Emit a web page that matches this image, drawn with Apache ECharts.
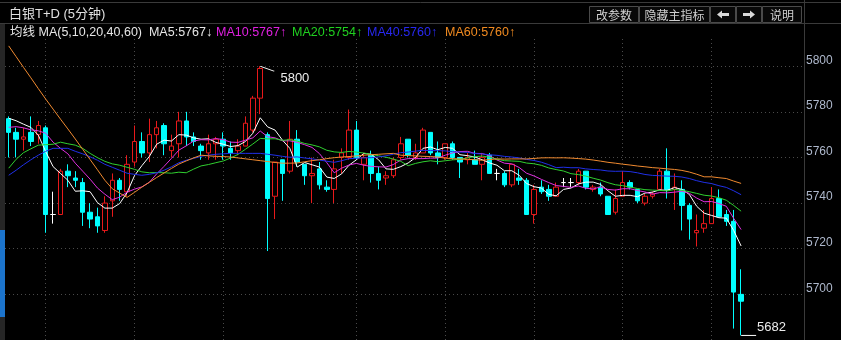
<!DOCTYPE html>
<html><head><meta charset="utf-8">
<script src="https://cdn.jsdelivr.net/npm/echarts@6/dist/echarts.min.js"></script>
<style>html,body{margin:0;padding:0;background:#000;}#c{width:841px;height:340px;}</style>
</head><body><div id="c"></div>
<script>
// ---- data ----
const opens = [5777,5771,5768,5771,5770,5773,5735,5735,5754,5751,5749,5736,5734,5728,5741,5750,5745,5758,5767,5762,
5770,5774,5763,5766,5776,5769,5765,5762,5766,5768,5764,5763,5765,5772,5786,5770,5743,5759,5754,5768,
5757,5752,5755,5747,5746,5760,5760,5772,5757,5761,5753,5751,5752,5760,5768,5760,5762,5771,5762,5760,
5766,5760,5759,5759,5757,5761,5753,5753,5748,5751,5750,5735,5747,5746,5743,5749,5749,5749,5754,5746,
5747,5743,5736,5743,5749,5746,5740,5743,5746,5754,5746,5746,5739,5727,5729,5731,5742,5735,5732,5700];
const closes = [5771,5768,5769,5767,5774,5735,5735,5754,5752,5750,5736,5733,5730,5740,5750,5746,5757,5767,5762,5770,
5773,5766,5765,5776,5769,5767,5763,5766,5768,5765,5762,5765,5775,5786,5799,5742,5758,5753,5768,5758,
5752,5753,5748,5746,5755,5762,5772,5760,5760,5753,5750,5752,5759,5766,5761,5762,5772,5762,5760,5766,
5760,5758,5760,5757,5760,5753,5753,5748,5757,5750,5735,5746,5745,5743,5747,5749,5749,5754,5747,5747,
5744,5735,5742,5749,5747,5741,5743,5744,5754,5746,5747,5739,5733,5728,5731,5742,5734,5732,5701,5697];
const lows = [5760,5760,5763,5765,5766,5727,5731,5735,5747,5747,5730,5729,5727,5727,5734,5741,5743,5756,5760,5758,
5764,5761,5760,5760,5765,5765,5759,5759,5759,5759,5759,5761,5765,5771,5779,5719,5733,5741,5753,5756,
5748,5740,5746,5745,5740,5753,5759,5759,5750,5749,5746,5748,5751,5759,5760,5759,5762,5761,5757,5759,
5759,5751,5757,5757,5750,5753,5750,5747,5747,5748,5735,5731,5744,5741,5743,5747,5747,5748,5746,5745,
5743,5735,5735,5743,5746,5740,5739,5742,5746,5742,5737,5728,5724,5721,5727,5731,5734,5730,5685,5682];
const highs = [5778,5773,5773,5778,5776,5774,5745,5755,5757,5754,5751,5740,5738,5743,5753,5751,5761,5774,5771,5777,
5776,5775,5770,5780,5780,5771,5766,5770,5769,5771,5767,5768,5778,5787,5800,5771,5758,5759,5776,5772,
5757,5760,5758,5750,5759,5764,5781,5776,5762,5763,5756,5754,5760,5769,5768,5766,5773,5771,5767,5766,
5767,5760,5762,5763,5762,5762,5755,5754,5757,5755,5751,5748,5750,5748,5749,5751,5751,5755,5754,5748,
5749,5743,5746,5754,5750,5746,5744,5745,5755,5764,5753,5750,5740,5735,5737,5747,5746,5737,5737,5711];
// moving-average values at the start of the window (need history before the first bar)
const ma5Lead = [5777.2,5776.1,5774.6,5773.2];
const ma10Lead = [5773.2,5773.5,5773.0,5772.1,5771.7,5770.6,5766.7,5764.0,5761.6];
const ma20Lead = [5755.3,5759.2,5762.1,5763.8,5765.4,5765.6,5765.8,5766.7,5766.0,5765.4,5764.0,5761.8,5759.9,5758.3,5757.2,5756.6,5755.7,5754.8,5753.7];
const ma40Lead = [5752.2,5754.4,5756.8,5759.0,5761.0,5762.7,5764.0,5764.0,5764.0,5762.7,5761.6,5760.3,5758.8,5757.0,5755.7,5754.4,5753.1,5752.6,5752.2,5752.6,
5753.3,5754.4,5755.9,5757.7,5758.8,5759.6,5760.5,5761.0,5761.4,5761.6,5761.8,5761.8,5761.8,5761.8,5761.8,5761.4,5761.0,5760.5,5760.1];
const ma60Lead = [5808.9,5804.2,5799.5,5794.9,5790.2,5785.6,5781.2,5776.8,5772.5,5768.1,5763.6,5759.1,5754.6,5750.0,5746.3,5744.4,5742.5,5744.7,5747.0,5749.1,
5751.2,5753.2,5755.2,5757.1,5758.5,5759.8,5761.0,5760.7,5760.5,5760.4,5760.2,5759.8,5759.4,5759.0,5758.6,5758.2,5757.8,5757.5,5757.5,5757.6,
5758.1,5758.6,5759.0,5759.5,5759.9,5760.2,5760.4,5760.7,5761.0,5761.2,5761.4,5761.6,5761.8,5761.0,5760.8,5760.7,5760.5,5760.4,5760.2];
const yTicks = [5700,5720,5740,5760,5780,5800];
const hourBars = [5,17,29,47,59,71,83,95]; // bars where the time grid lines fall
const emptySlots = 8; // empty space on the right of the last bar
const legendItems = [
  {text:'均线 MA(5,10,20,40,60)  MA5:5767↓', color:'#e6e6e6'},
  {text:'MA10:5767↑', color:'#e020e0'},
  {text:'MA20:5754↑', color:'#20d020'},
  {text:'MA40:5760↑', color:'#2828f0'},
  {text:'MA60:5760↑', color:'#f08a20'}
];
const buttons = ['改参数','隐藏主指标','','','说明'];

// ---- build ----
function ma(n, lead){
  return closes.map((c,i)=>{
    if(i < n-1) return lead[i];
    let s=0; for(let k=i-n+1;k<=i;k++) s+=closes[k];
    return +(s/n).toFixed(2);
  });
}
const cats = [];
for(let i=0;i<closes.length+emptySlots;i++) cats.push(String(i));
const kData = closes.map((c,i)=>[opens[i], c, lows[i], highs[i]]);
const FONT = '"Liberation Sans","Noto Sans CJK SC",sans-serif';
const maDefs = [
  {name:'MA5', n:5, lead:ma5Lead, color:'#ffffff'},
  {name:'MA10', n:10, lead:ma10Lead, color:'#e030e0'},
  {name:'MA20', n:20, lead:ma20Lead, color:'#30d030'},
  {name:'MA40', n:40, lead:ma40Lead, color:'#2030e8'},
  {name:'MA60', n:60, lead:ma60Lead, color:'#f08a30'}
];
const chart = echarts.init(document.getElementById('c'));
const legendX = [10, 216, 292, 367, 445];
const btnBoxes = [[589,49],[639,70],[710,25],[736,25],[762,39]];
const graphic = [
  {type:'line', shape:{x1:0,y1:2.5,x2:841,y2:2.5}, style:{stroke:'#3a3a3a',lineWidth:1}},
  {type:'line', shape:{x1:0,y1:23.5,x2:841,y2:23.5}, style:{stroke:'#3a3a3a',lineWidth:1}},
  {type:'line', shape:{x1:804.5,y1:0,x2:804.5,y2:340}, style:{stroke:'#3a3a3a',lineWidth:1}},
  {type:'rect', shape:{x:0,y:24,width:5,height:316}, style:{fill:'#262626'}},
  {type:'rect', shape:{x:0,y:230,width:5,height:87}, style:{fill:'#1c74cc'}},
  {type:'text', x:9, y:14, style:{text:'白银T+D (5分钟)', fill:'#e0e0e0', font:'13px '+FONT, verticalAlign:'middle'}}
];
legendItems.forEach((it,i)=>graphic.push({type:'text', x:legendX[i], y:33, style:{text:it.text, fill:it.color, font:'12.5px '+FONT, verticalAlign:'middle'}}));
buttons.forEach((b,i)=>{
  const [bx,bw]=btnBoxes[i];
  graphic.push({type:'rect', shape:{x:bx+0.5,y:6.5,width:bw,height:16}, style:{fill:'#080808',stroke:'#4a4a4a',lineWidth:1}});
  if(b) graphic.push({type:'text', x:bx+bw/2+0.5, y:15, style:{text:b, fill:'#cfcfcf', font:'12px "Noto Sans CJK SC",sans-serif', align:'center', verticalAlign:'middle'}});
});
// arrow glyphs
graphic.push({type:'polygon', shape:{points:[[717,14.5],[722,10.5],[722,13],[729,13],[729,16],[722,16],[722,18.5]]}, style:{fill:'#d8d8d8'}});
graphic.push({type:'polygon', shape:{points:[[755,14.5],[750,10.5],[750,13],[743,13],[743,16],[750,16],[750,18.5]]}, style:{fill:'#d8d8d8'}});

const series = [
  {type:'line', data:[], z:1, silent:true,
   markLine:{silent:true, symbol:'none', z:1, label:{show:false},
     lineStyle:{type:[1,3], color:'#4a4a4a', width:1},
     data: hourBars.map(i=>({xAxis:i}))}},
  {type:'candlestick', name:'K', data:kData, z:3, barWidth:5,
   itemStyle:{color:'#000000', color0:'#00ffff', borderColor:'#e8191b', borderColor0:'#00ffff', borderColorDoji:'#ffffff', borderWidth:1},
   markPoint:{
     silent:true, animation:false,
     data:[
       {type:'max', valueDim:'highest', symbol:'path://M0,0L14,5', symbolSize:[14,5], symbolOffset:[7,2.5],
        itemStyle:{color:'none', borderColor:'#ffffff', borderWidth:1},
        label:{show:true, position:'right', distance:2, offset:[0,9.5], color:'#ececec', fontSize:13, fontFamily:FONT, formatter:p=>Math.round(p.value)}},
       {type:'min', valueDim:'lowest', symbol:'rect', symbolSize:[15,1], symbolOffset:[7.5,0],
        itemStyle:{color:'#ffffff'},
        label:{show:true, position:'right', distance:1, offset:[0,-8], color:'#ececec', fontSize:13, fontFamily:FONT, formatter:p=>Math.round(p.value)}}
     ]
   }}
];
maDefs.forEach(d=>series.push({type:'line', name:d.name, data:ma(d.n,d.lead), symbol:'none', z:4, silent:true,
  lineStyle:{color:d.color, width:1}, animation:false}));

chart.setOption({
  backgroundColor:'#000000',
  animation:false,
  graphic: graphic,
  grid:{left:5, right:37, top:37, bottom:0, containLabel:false},
  xAxis:{type:'category', data:cats, boundaryGap:true, axisLine:{show:false}, axisTick:{show:false}, axisLabel:{show:false}, splitLine:{show:false}},
  yAxis:{type:'value', position:'right', min:5680, max:5812.8, interval:20,
    axisLine:{show:true, lineStyle:{color:'#3a3a3a'}}, axisTick:{show:false},
    axisLabel:{show:true, color:'#aeb8cc', fontSize:12, fontFamily:FONT, margin:2, verticalAlign:'bottom', showMinLabel:false, showMaxLabel:false,
      formatter:v=> yTicks.indexOf(v)>=0 ? String(v) : ''},
    splitLine:{show:true, lineStyle:{type:[1,3], color:['transparent','#4a4a4a','#4a4a4a','#4a4a4a','#4a4a4a','#4a4a4a','#4a4a4a','transparent']}}
  },
  series: series
});
</script></body></html>
